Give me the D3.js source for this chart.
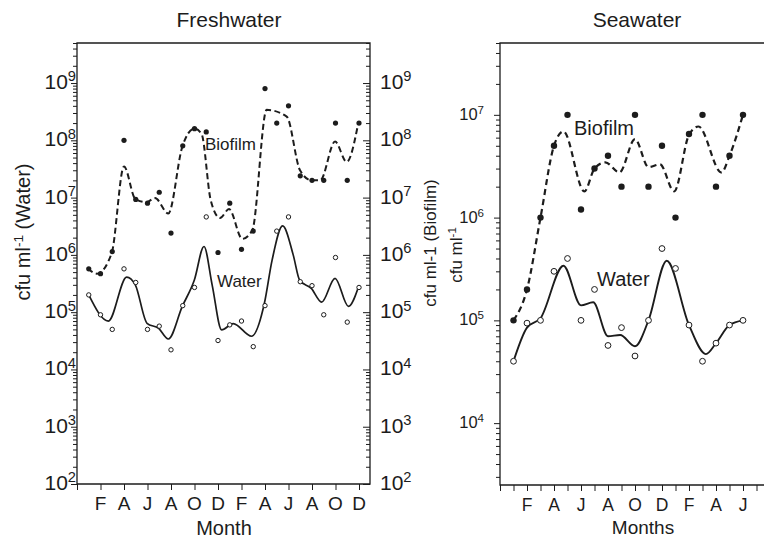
<!DOCTYPE html>
<html><head><meta charset="utf-8">
<script src="https://cdn.jsdelivr.net/npm/d3@7"></script>
<style>
html,body{margin:0;padding:0;background:#fff;}
svg text{font-family:"Liberation Sans",Arial,Helvetica,sans-serif;fill:#1c1c1c;}
</style></head><body>
<svg id="chart" width="764" height="538"></svg>
<script>
// ---------- Freshwater (months counted from the December that opens the record)
const freshMonths = d3.range(1, 25);
const freshBiofilm = [5.7e5,4.7e5,1.14e6,1e8,9.3e6,8e6,1.24e7,2.4e6,8e7,1.6e8,1.4e8,1.1e6,
                      8e6,1.25e6,2.6e6,8e8,2e8,4e8,2.4e7,2e7,2e7,2e8,2e7,2e8];
const freshWater = [2e5,9e4,5e4,5.7e5,3.3e5,5e4,5.7e4,2.2e4,1.3e5,2.7e5,4.6e6,3.2e4,
                    6e4,7e4,2.5e4,1.3e5,2.6e6,4.6e6,3.4e5,2.9e5,9e4,9e5,6.7e4,2.7e5];
// smoothed trends as [month, cfu] knots
const freshBiofilmTrend = [[0.92,5.8e5],[1.7,4.7e5],[2.95,1.07e6],[4.0,3.5e7],[4.96,9.5e6],[5.9,8.3e6],
  [6.64,9.8e6],[7.77,5.3e6],[8.96,7.7e7],[9.98,1.6e8],[10.6,1.3e8],[11.38,9e6],[12.17,4.4e6],
  [12.94,6.3e6],[14.07,1.9e6],[14.92,2.7e6],[16.14,3.4e8],[17.85,2.6e8],[18.98,3e7],[19.97,2e7],
  [20.7,2e7],[21.96,9.5e7],[22.95,4.2e7],[23.94,2e8]];
const freshWaterTrend = [[1,2e5],[2.67,7e4],[4.23,4.1e5],[4.96,3e5],[5.96,6.4e4],[6.95,5.2e4],
  [7.77,3.4e4],[8.96,1.26e5],[9.98,3.6e5],[10.81,1.4e6],[11.5,3e5],[12.31,4.9e4],[13.3,6.3e4],
  [14.86,3.8e4],[15.94,1.4e5],[16.6,8e5],[17.5,3.2e6],[18.4,1e6],[18.95,3.6e5],[19.94,2.6e5],
  [20.82,1.5e5],[21.96,3.9e5],[23.1,1.26e5],[23.94,2.7e5]];
const freshTickMonths = d3.range(0, 25, 2);
const freshTickLabels = ["","F","A","J","A","O","D","F","A","J","A","O","D"];
const freshDecades = [2,3,4,5,6,7,8,9];

// ---------- Seawater
const seaMonths = d3.range(1, 19);
const seaBiofilm = [1e5,2e5,1e6,5e6,1e7,1.2e6,3e6,4e6,2e6,1e7,2e6,5e6,1e6,6.5e6,1e7,2e6,4e6,1e7];
const seaWater = [4e4,9.4e4,1e5,3e5,4e5,1e5,2e5,5.7e4,8.5e4,4.5e4,1e5,5e5,3.2e5,9e4,4e4,6e4,9e4,1e5];
const seaBiofilmTrend = [[1,1e5],[2,2e5],[3,1e6],[4,5e6],[4.7,6.9e6],[6.25,1.8e6],[7,3e6],[7.8,3.45e6],
  [8.85,2.75e6],[10,5.8e6],[11,3.1e6],[11.85,3.3e6],[12.9,1.8e6],[14,6.4e6],[14.7,7.7e6],
  [16.4,2.75e6],[17,4e6],[18,1e7]];
const seaWaterTrend = [[1,4e4],[2,8.5e4],[3,1.05e5],[4.7,3.4e5],[6,1.4e5],[6.9,1.5e5],[8,7e4],
  [8.9,7.2e4],[10,5.6e4],[11,1e5],[12.35,3.8e5],[14,9e4],[15.25,4.7e4],[16,6e4],[17,9e4],[18,1e5]];
const seaTickMonths = d3.range(0, 20);
const seaTickLabels = ["","","F","","A","","J","","A","","O","","D","","F","","A","","J",""];
const seaDecades = [4,5,6,7];

const INK = "#1c1c1c";
const svg = d3.select("#chart");

function supLabel(g, x, y, exp, size, anchor) {
  const t = g.append("text").attr("x", x).attr("y", y)
    .attr("text-anchor", anchor).attr("font-size", size);
  t.append("tspan").text("10");
  t.append("tspan").attr("dy", -size * 0.36).attr("font-size", size * 0.7).text(exp);
}

function yTicks(g, y, xPos, majors, majorLen, minorLen) {
  const minors = y.ticks(40).filter(v => Math.abs(Math.log10(v) - Math.round(Math.log10(v))) > 1e-6);
  const a1 = g.append("g").attr("transform", `translate(${xPos},0)`)
    .call(d3.axisLeft(y).tickValues(minors).tickSize(minorLen).tickFormat(""));
  const a2 = g.append("g").attr("transform", `translate(${xPos},0)`)
    .call(d3.axisLeft(y).tickValues(majors.map(d => Math.pow(10, d))).tickSize(majorLen).tickFormat(""));
  [a1, a2].forEach(a => {
    a.select(".domain").remove();
    a.selectAll("line").attr("stroke", INK).attr("stroke-width", 1);
  });
}

function drawPanel(c) {
  const g = svg.append("g");
  const x = d3.scaleLinear().domain(c.xDomain).range([c.left, c.xRight]);
  const y = d3.scaleLog().domain(c.yDomain).range([c.bottom, c.top]);

  // frame
  g.append("path")
    .attr("d", c.closed
      ? `M${c.left},${c.top}H${c.frameRight}V${c.bottom}H${c.left}Z`
      : `M${c.frameRight},${c.top}H${c.left}V${c.bottom}H${c.frameRight}`)
    .attr("fill", "none").attr("stroke", INK).attr("stroke-width", 1.3);

  // left y axis
  yTicks(g, y, c.left, c.decades, 6, 4);
  c.decades.forEach(d => supLabel(g, c.left - c.yLabelGap, y(Math.pow(10, d)) + c.yLabelDy, d, c.tickFont, "end"));

  // secondary y axis on the right edge (ticks pointing inward)
  if (c.rightAxis) {
    yTicks(g, y, c.frameRight, c.decades, 7, 4);
    c.decades.forEach(d => supLabel(g, c.frameRight + 10, y(Math.pow(10, d)) + c.yLabelDy, d, c.tickFont, "start"));
  }

  // x axis
  const ax = g.append("g").attr("transform", `translate(0,${c.bottom})`)
    .call(d3.axisBottom(x).tickValues(c.tickMonths).tickSize(6).tickFormat(""));
  ax.select(".domain").remove();
  ax.selectAll("line").attr("stroke", INK).attr("stroke-width", 1);
  c.tickMonths.forEach((m, i) => {
    if (!c.tickLabels[i]) return;
    g.append("text").attr("x", x(m)).attr("y", c.xLabelY).attr("text-anchor", "middle")
      .attr("font-size", c.xTickFont).text(c.tickLabels[i]);
  });

  // trends
  const line = d3.line().x(d => x(d[0])).y(d => y(d[1])).curve(d3.curveMonotoneX);
  g.append("path").datum(c.bioTrend).attr("d", line).attr("fill", "none")
    .attr("stroke", INK).attr("stroke-width", c.lineW).attr("stroke-dasharray", c.dash);
  g.append("path").datum(c.waterTrend).attr("d", line).attr("fill", "none")
    .attr("stroke", INK).attr("stroke-width", c.lineW * 0.85);

  // observations
  g.selectAll(null).data(c.months.map((m, i) => [m, c.water[i]])).join("circle")
    .attr("cx", d => x(d[0])).attr("cy", d => y(d[1])).attr("r", c.rOpen)
    .attr("fill", "#fff").attr("stroke", INK).attr("stroke-width", 1);
  g.selectAll(null).data(c.months.map((m, i) => [m, c.bio[i]])).join("circle")
    .attr("cx", d => x(d[0])).attr("cy", d => y(d[1])).attr("r", c.rFill)
    .attr("fill", INK);

  // series names
  g.append("text").attr("x", c.bioText[0]).attr("y", c.bioText[1]).attr("font-size", c.nameFont).text("Biofilm");
  g.append("text").attr("x", c.waterText[0]).attr("y", c.waterText[1]).attr("font-size", c.nameFont).text("Water");

  // title and x title
  g.append("text").attr("x", c.titlePos[0]).attr("y", c.titlePos[1]).attr("text-anchor", "middle")
    .attr("font-size", 21).text(c.title);
  g.append("text").attr("x", c.xTitlePos[0]).attr("y", c.xTitlePos[1]).attr("text-anchor", "middle")
    .attr("font-size", c.xTitleFont).text(c.xTitle);
}

drawPanel({
  title: "Freshwater", titlePos: [229, 27], xTitle: "Month", xTitlePos: [224, 535], xTitleFont: 20,
  left: 77, xRight: 370.75, frameRight: 370, top: 43, bottom: 484, closed: true, rightAxis: true,
  xDomain: [0, 25], yDomain: [1e2, 5e9], decades: freshDecades, tickFont: 21, yLabelDy: 6, yLabelGap: 1,
  tickMonths: freshTickMonths, tickLabels: freshTickLabels, xTickFont: 19, xLabelY: 510,
  months: freshMonths, bio: freshBiofilm, water: freshWater,
  bioTrend: freshBiofilmTrend, waterTrend: freshWaterTrend,
  lineW: 2, dash: "6,3.5", rFill: 2.6, rOpen: 2.2,
  nameFont: 17, bioText: [205, 150], waterText: [217, 287]
});

drawPanel({
  title: "Seawater", titlePos: [637, 27], xTitle: "Months", xTitlePos: [643, 534], xTitleFont: 19,
  left: 500, xRight: 770, frameRight: 770, top: 43, bottom: 485, closed: false, rightAxis: false,
  xDomain: [0, 20], yDomain: [2.5e3, 5e7], decades: seaDecades, tickFont: 16.5, yLabelDy: 5, yLabelGap: 16,
  tickMonths: seaTickMonths, tickLabels: seaTickLabels, xTickFont: 17.5, xLabelY: 511,
  months: seaMonths, bio: seaBiofilm, water: seaWater,
  bioTrend: seaBiofilmTrend, waterTrend: seaWaterTrend,
  lineW: 2.2, dash: "6,4", rFill: 3.2, rOpen: 2.9,
  nameFont: 20, bioText: [574, 135], waterText: [597, 286]
});

// rotated axis titles
function rotLabel(x, y, size, parts) {
  const t = svg.append("text").attr("transform", `translate(${x},${y}) rotate(-90)`)
    .attr("text-anchor", "middle").attr("font-size", size);
  parts.forEach(p => {
    const s = t.append("tspan").text(p.t);
    if (p.sup) s.attr("dy", -size * 0.36).attr("font-size", size * 0.68);
    if (p.down) s.attr("dy", size * 0.36);
  });
}
rotLabel(30, 232, 20, [{t: "cfu ml"}, {t: "-1", sup: true}, {t: " (Water)", down: true}]);
rotLabel(436, 243, 17, [{t: "cfu ml-1 (Biofilm)"}]);
rotLabel(462, 255, 17, [{t: "cfu ml"}, {t: "-1", sup: true}]);
</script>
</body></html>
